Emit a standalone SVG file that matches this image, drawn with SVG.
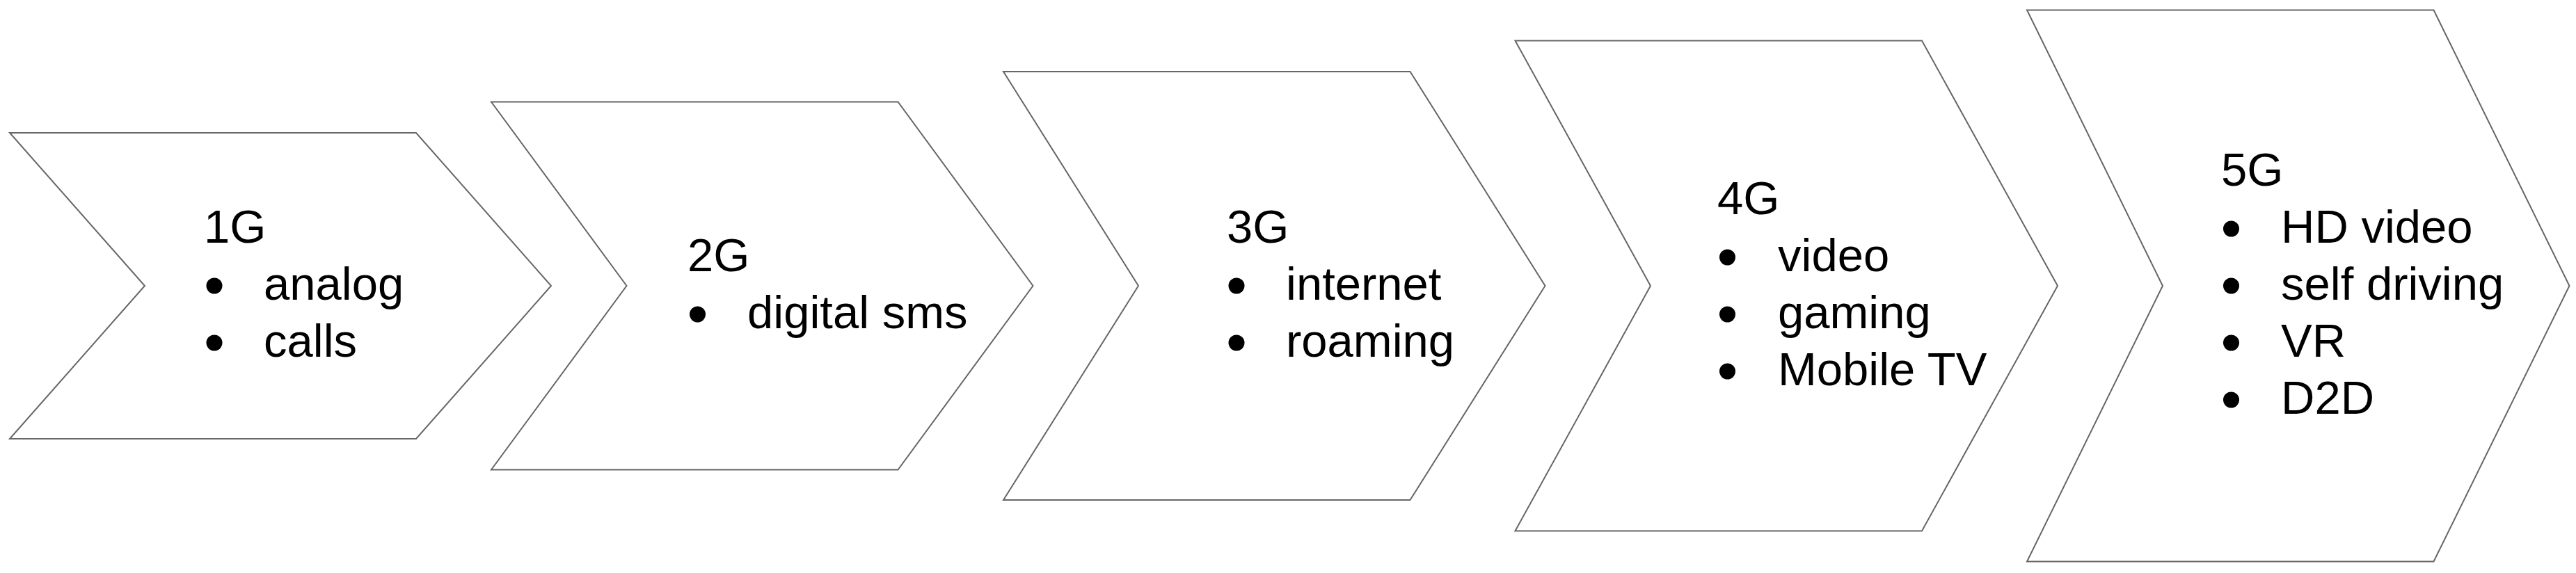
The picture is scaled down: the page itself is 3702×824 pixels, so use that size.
<svg xmlns="http://www.w3.org/2000/svg" width="3702" height="824" viewBox="0 0 3702 824">
<style>
.chev{fill:#ffffff;stroke:#666666;stroke-width:2;stroke-linejoin:miter}
.t{font-family:"Liberation Sans",Arial,sans-serif;font-size:67px;fill:#000000}
.b{fill:#000000}
</style>
<rect x="0" y="0" width="3702" height="824" fill="#ffffff"/>
<g id="node-1g">
<polygon class="chev" points="14,191 598,191 792,411 598,631 14,631 208,411"/>
<text class="t" x="293" y="349">1G</text>
<circle class="b" cx="308" cy="411" r="11.5"/>
<text class="t" x="379" y="431">analog</text>
<circle class="b" cx="308" cy="493" r="11.5"/>
<text class="t" x="379" y="513">calls</text>
</g>
<g id="node-2g">
<polygon class="chev" points="706,146.5 1290.5,146.5 1484.5,411 1290.5,675.5 706,675.5 900.5,411"/>
<text class="t" x="988" y="390">2G</text>
<circle class="b" cx="1002.5" cy="452" r="11.5"/>
<text class="t" x="1074" y="472">digital sms</text>
</g>
<g id="node-3g">
<polygon class="chev" points="1442,103 2026.5,103 2220.5,411 2026.5,719 1442,719 1636,411"/>
<text class="t" x="1763" y="349">3G</text>
<circle class="b" cx="1777" cy="411" r="11.5"/>
<text class="t" x="1848" y="431">internet</text>
<circle class="b" cx="1777" cy="493" r="11.5"/>
<text class="t" x="1848" y="513">roaming</text>
</g>
<g id="node-4g">
<polygon class="chev" points="2177.5,58.5 2762,58.5 2957,411 2762,763.5 2177.5,763.5 2372,411"/>
<text class="t" x="2468" y="308">4G</text>
<circle class="b" cx="2482.5" cy="370" r="11.5"/>
<text class="t" x="2555" y="390">video</text>
<circle class="b" cx="2482.5" cy="452" r="11.5"/>
<text class="t" x="2555" y="472">gaming</text>
<circle class="b" cx="2482.5" cy="534" r="11.5"/>
<text class="t" x="2555" y="554">Mobile TV</text>
</g>
<g id="node-5g">
<polygon class="chev" points="2913,14.5 3497.5,14.5 3692.5,411 3497.5,807.5 2913,807.5 3108,411"/>
<text class="t" x="3192" y="267">5G</text>
<circle class="b" cx="3206.5" cy="329" r="11.5"/>
<text class="t" x="3278" y="349">HD video</text>
<circle class="b" cx="3206.5" cy="411" r="11.5"/>
<text class="t" x="3278" y="431">self driving</text>
<circle class="b" cx="3206.5" cy="493" r="11.5"/>
<text class="t" x="3278" y="513">VR</text>
<circle class="b" cx="3206.5" cy="575" r="11.5"/>
<text class="t" x="3278" y="595">D2D</text>
</g>
<g id="connectors"></g>
</svg>
